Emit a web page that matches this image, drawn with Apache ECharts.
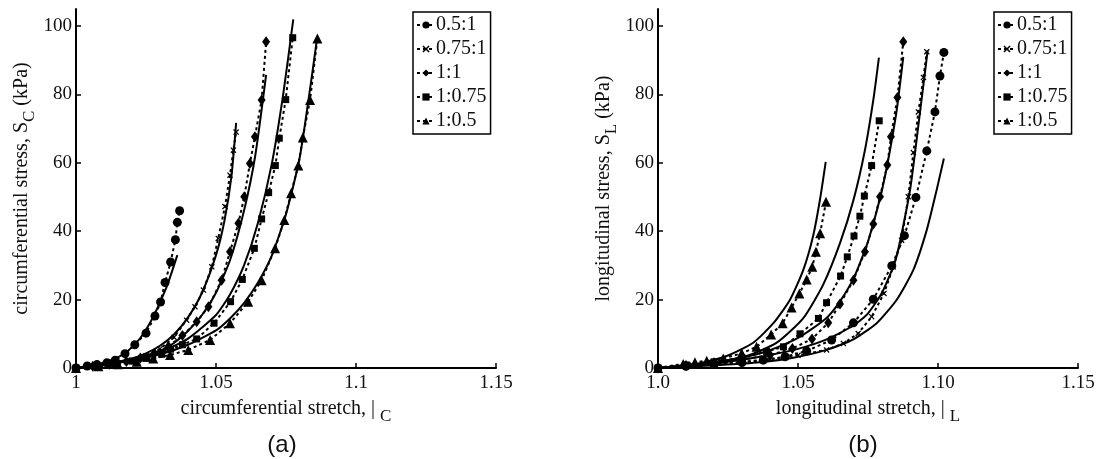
<!DOCTYPE html>
<html>
<head>
<meta charset="utf-8">
<script src="https://cdn.jsdelivr.net/npm/echarts@6/dist/echarts.min.js"></script>
<style>
  html, body { margin: 0; padding: 0; background: #fff; }
  #chart { width: 1101px; height: 459px; }
</style>
</head>
<body>
<div id="chart"></div>
<script>
// ratio names (legend)
const ratios = ['0.5:1', '0.75:1', '1:1', '1:0.75', '1:0.5'];

// tick labels
const xTicksA = ['1', '1.05', '1.1', '1.15'];
const xTicksB = ['1.0', '1.05', '1.10', '1.15'];
const yTicks = [0, 20, 40, 60, 80, 100];

// (a) circumferential: measured [stretch, stress kPa]
const aData05 = [[1.0,0],[1.004,0.6],[1.0075,1.0],[1.011,1.5],[1.014,2.3],[1.0175,4.2],[1.021,6.8],[1.025,10.2],[1.0282,15.2],[1.0302,19.3],[1.0318,25],[1.0338,31],[1.0355,37.5],[1.0362,42.6],[1.037,46]];
const aData075 = [[1.0,0],[1.005,0.4],[1.01,0.9],[1.015,1.5],[1.02,2.3],[1.025,3.6],[1.03,5.6],[1.035,9],[1.0395,14],[1.0425,17.9],[1.0455,22.8],[1.0485,29.6],[1.0508,37.9],[1.0532,47.2],[1.055,56.4],[1.0562,63.7],[1.0572,69]];
const aData11 = [[1.0,0],[1.006,0.5],[1.012,1.1],[1.018,1.9],[1.023,2.9],[1.028,4.3],[1.033,6.3],[1.038,9.5],[1.0431,13.5],[1.0473,17.9],[1.052,25.7],[1.055,34],[1.058,42.3],[1.0601,50.1],[1.0621,59.8],[1.0639,67.6],[1.0663,78.4],[1.0679,95.4]];
const aData1075 = [[1.0,0],[1.007,0.6],[1.014,1.3],[1.02,2],[1.0252,2.8],[1.0306,4],[1.0338,5.5],[1.038,6.8],[1.0431,8.5],[1.0493,13.1],[1.0552,19.4],[1.0594,25.9],[1.0637,35],[1.0663,43.6],[1.0688,51.3],[1.0712,59.2],[1.0726,67.2],[1.0749,78.5],[1.0774,96.6]];
const aData105 = [[1.0,0],[1.008,0.5],[1.015,1.1],[1.0217,1.8],[1.0276,2.8],[1.0336,3.8],[1.0401,5.3],[1.0479,8.2],[1.055,13.1],[1.0615,19.4],[1.0663,25.7],[1.0711,35],[1.0744,43.3],[1.0768,51.1],[1.0794,59.2],[1.081,67.4],[1.0836,78.4],[1.0862,96.4]];

// (a) model fits
const aFit05 = [[1.0,0],[1.005,0.6],[1.01,1.5],[1.0175,4.3],[1.0229,8.7],[1.0276,15],[1.0324,23.8],[1.0362,33]];
const aFit075 = [[1.0,0],[1.01,1],[1.02,2.8],[1.025,4.3],[1.03,6.5],[1.035,9.8],[1.04,14.8],[1.045,22],[1.05,33],[1.053,43],[1.0555,56],[1.0572,71.7]];
const aFit11 = [[1.0,0],[1.01,1],[1.02,2.6],[1.03,5],[1.035,7.3],[1.04,10.8],[1.045,15.5],[1.05,22],[1.055,31.5],[1.06,46],[1.064,62],[1.0679,85.7]];
const aFit1075 = [[1.0,0],[1.01,1],[1.02,2.5],[1.03,4.6],[1.04,8.6],[1.05,15.5],[1.055,21.5],[1.06,30],[1.065,42.5],[1.07,60],[1.074,80],[1.0776,102]];
const aFit105 = [[1.0,0],[1.01,1],[1.02,2.2],[1.03,4],[1.04,6.8],[1.05,11],[1.055,14.5],[1.06,19],[1.065,25],[1.07,33],[1.075,45],[1.08,62],[1.0862,97]];

// (b) longitudinal: measured
const bData05 = [[1.0,0],[1.01,0.5],[1.02,1],[1.03,1.6],[1.0376,2.3],[1.0454,3.3],[1.0531,5],[1.062,8.2],[1.0698,13.2],[1.0769,20.1],[1.0835,29.9],[1.088,38.7],[1.0921,49.9],[1.096,63.5],[1.0989,74.9],[1.1007,85.4],[1.1021,92.3]];
const bData075 = [[1.0,0],[1.01,0.5],[1.02,1.1],[1.03,1.8],[1.04,2.6],[1.05,3.7],[1.0602,5.3],[1.0662,7.2],[1.0715,10.1],[1.0763,15],[1.0807,21.8],[1.084,29.6],[1.087,37.4],[1.0894,50.1],[1.0912,63],[1.093,74.9],[1.0948,85],[1.096,92.5]];
const bData11 = [[1.0,0],[1.01,0.7],[1.02,1.5],[1.03,2.4],[1.04,3.8],[1.048,5.7],[1.055,8.5],[1.0608,13.2],[1.065,18.7],[1.0698,25.7],[1.0739,34],[1.0769,42.1],[1.0793,50.1],[1.0819,59.4],[1.0832,67.6],[1.0855,79.1],[1.0876,95.4]];
const bData1075 = [[1.0,0],[1.01,0.9],[1.02,1.8],[1.03,3],[1.0388,4.8],[1.0448,6.2],[1.0507,10],[1.0573,14.5],[1.0602,19.1],[1.0652,26.9],[1.0676,32.5],[1.07,38.6],[1.0721,44.4],[1.0737,50.3],[1.0763,59.2],[1.079,72.3]];
const bData105 = [[1.0,0],[1.009,1.2],[1.0132,1.7],[1.0174,2.1],[1.0233,2.8],[1.0299,4.3],[1.0352,6.2],[1.0404,9.8],[1.0445,13.1],[1.0477,17.7],[1.0505,21.8],[1.0531,25.9],[1.0551,29.6],[1.0564,34],[1.0579,39.4],[1.06,48.6]];

// (b) model fits
const bFit05 = [[1.0,0],[1.0221,0.9],[1.0364,1.7],[1.0483,3],[1.0602,5.3],[1.0698,8.4],[1.0781,13.1],[1.0852,19.9],[1.0912,28.7],[1.096,40.4],[1.0995,52],[1.1021,61.3]];
const bFit075 = [[1.0,0],[1.02,1.3],[1.03,2.4],[1.04,3.8],[1.05,5.6],[1.06,8.3],[1.07,12.5],[1.075,16],[1.08,22],[1.085,32],[1.09,52],[1.093,71],[1.0963,92.8]];
const bFit11 = [[1.0,0],[1.02,1.6],[1.03,3],[1.04,5.2],[1.05,8.8],[1.06,14.5],[1.065,19.5],[1.07,26.5],[1.075,37],[1.08,52],[1.085,74],[1.0876,91]];
const bFit1075 = [[1.0,0],[1.0186,1.4],[1.0317,3.5],[1.0424,7.4],[1.0519,14.6],[1.059,24.4],[1.065,36.5],[1.0698,49.1],[1.0739,63.7],[1.0769,78.4],[1.0789,90.8]];
const bFit105 = [[1.0,0],[1.015,1.4],[1.0245,3.5],[1.034,7.4],[1.0412,13.1],[1.0471,19.9],[1.0519,28.7],[1.0555,39],[1.0579,49.5],[1.0599,60.3]];

const SERIF = 'Liberation Serif, Times New Roman, serif';
const INK = '#111';
const xMark = 'path://M0,1.5L1.5,0L5,3.5L8.5,0L10,1.5L6.5,5L10,8.5L8.5,10L5,6.5L1.5,10L0,8.5L3.5,5Z';
const symbols = ['circle', xMark, 'diamond', 'rect', 'triangle'];
const symSizes = [9, 6, [8, 11], 7, 10];

const chart = echarts.init(document.getElementById('chart'));

function dataSeries(name, data, i, idx) {
  return {
    name: name, type: 'line', xAxisIndex: idx, yAxisIndex: idx, data: data,
    symbol: symbols[i], symbolSize: symSizes[i], showAllSymbol: true,
    lineStyle: { color: '#000', width: 2, type: [3, 3] },
    itemStyle: { color: '#000' },
    z: 3, animation: false
  };
}
function fitSeries(name, data, idx) {
  return {
    name: 'fit ' + name, type: 'line', xAxisIndex: idx, yAxisIndex: idx, data: data,
    symbol: 'none', smooth: 0.2,
    lineStyle: { color: '#000', width: 2 },
    z: 2, silent: true, animation: false
  };
}

function xAxis(idx, ticks, title) {
  return {
    type: 'value', gridIndex: idx, min: 1, max: 1.15, interval: 0.05,
    axisLine: { lineStyle: { color: '#000', width: 2 } },
    axisTick: { inside: true, length: 5, lineStyle: { color: '#000', width: 1.5 } },
    splitLine: { show: false },
    axisLabel: {
      color: INK, fontFamily: SERIF, fontSize: 19, margin: 6,
      formatter: v => ticks[Math.round((v - 1) / 0.05)]
    },
    name: title, nameLocation: 'middle', nameGap: 25,
    nameTextStyle: {
      color: INK, fontFamily: SERIF, fontSize: 20, verticalAlign: 'top',
      rich: { sub: { fontFamily: SERIF, fontSize: 17, color: INK, padding: [15, 0, 0, 0] } }
    }
  };
}
function yAxis(idx, title) {
  return {
    type: 'value', gridIndex: idx, min: 0, max: 105,
    axisLine: { show: true, lineStyle: { color: '#000', width: 2 } },
    axisTick: { show: true, inside: true, length: 5, customValues: yTicks, lineStyle: { color: '#000', width: 1.5 } },
    splitLine: { show: false },
    axisLabel: { color: INK, fontFamily: SERIF, fontSize: 19, margin: 4, customValues: yTicks },
    name: title, nameLocation: 'middle', nameGap: 38,
    nameTextStyle: {
      color: INK, fontFamily: SERIF, fontSize: 20,
      rich: { sub: { fontFamily: SERIF, fontSize: 17, color: INK, padding: [15, 0, 0, 0] } }
    }
  };
}
function legend(left) {
  return {
    data: ratios, orient: 'vertical', left: left, top: 12,
    padding: [3, 4, 3, 3], itemGap: 4, itemWidth: 18, itemHeight: 9,
    borderColor: '#000', borderWidth: 1.5, backgroundColor: '#fff',
    textStyle: { color: INK, fontFamily: SERIF, fontSize: 20, lineHeight: 19, padding: [0, 0, 0, -4] },
    selectedMode: false
  };
}

const aData = [aData05, aData075, aData11, aData1075, aData105];
const aFit = [aFit05, aFit075, aFit11, aFit1075, aFit105];
const bData = [bData05, bData075, bData11, bData1075, bData105];
const bFit = [bFit05, bFit075, bFit11, bFit1075, bFit105];

const series = [];
ratios.forEach((r, i) => {
  series.push(fitSeries(r, aFit[i], 0));
  series.push(dataSeries(r, aData[i], i, 0));
  series.push(fitSeries(r, bFit[i], 1));
  series.push(dataSeries(r, bData[i], i, 1));
});

chart.setOption({
  backgroundColor: '#fff',
  animation: false,
  title: [
    { text: '(a)', left: 277, top: 428, textAlign: 'center',
      textStyle: { fontFamily: 'Liberation Sans, Arial, sans-serif', fontSize: 24, fontWeight: 'normal', color: INK } },
    { text: '(b)', left: 858, top: 428, textAlign: 'center',
      textStyle: { fontFamily: 'Liberation Sans, Arial, sans-serif', fontSize: 24, fontWeight: 'normal', color: INK } }
  ],
  legend: [legend(413), legend(994)],
  grid: [
    { left: 76, top: 9, width: 420, height: 359 },
    { left: 658, top: 9, width: 420, height: 359 }
  ],
  xAxis: [
    xAxis(0, xTicksA, 'circumferential stretch, | {sub|C}'),
    xAxis(1, xTicksB, 'longitudinal stretch, | {sub|L}')
  ],
  yAxis: [
    yAxis(0, 'circumferential stress, S{sub|C} (kPa)'),
    yAxis(1, 'longitudinal stress, S{sub|L} (kPa)')
  ],
  series: series
});

window.addEventListener('resize', () => chart.resize());
</script>
</body>
</html>
